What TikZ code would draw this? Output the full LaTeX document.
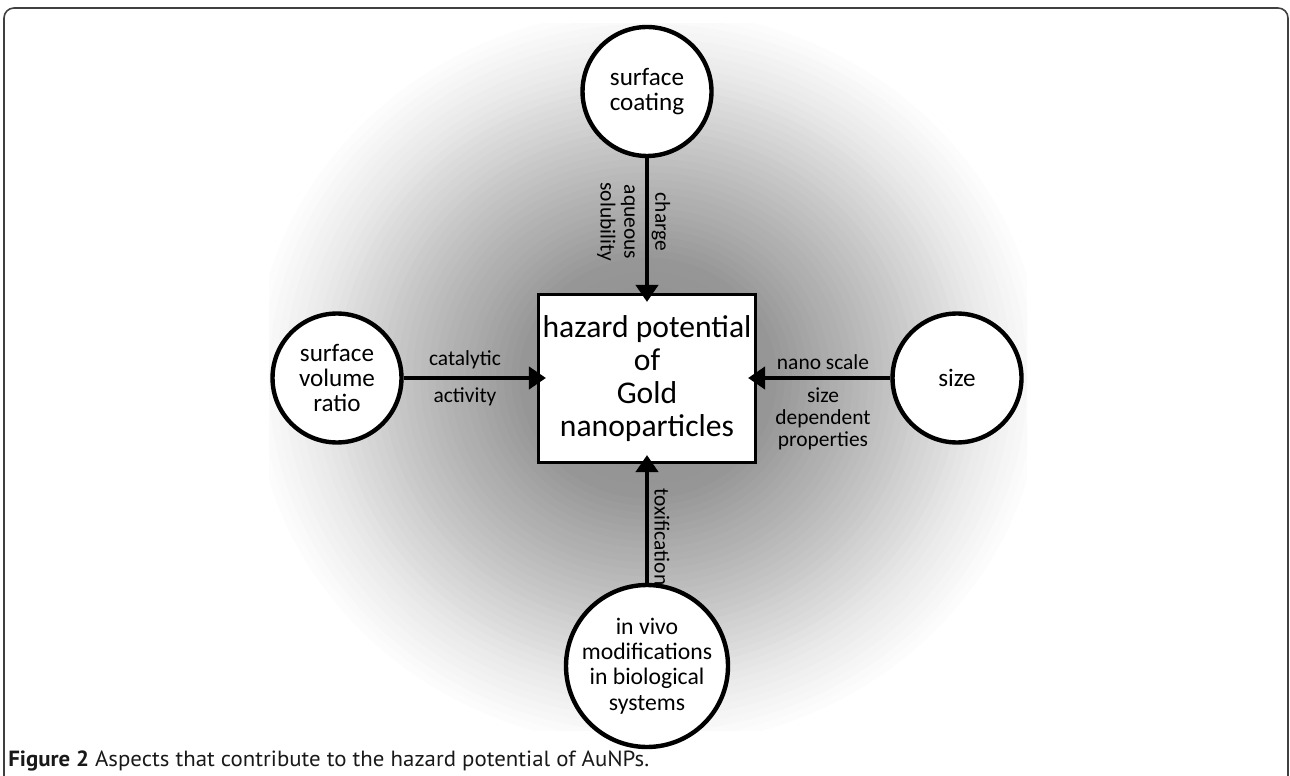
\documentclass[tikz,border=0pt]{standalone}
\usepackage{fontspec}
\setmainfont{Carlito}
\newfontfamily\capfont{PT Sans}
\usetikzlibrary{arrows.meta}
\tikzset{
  circ/.style={circle, draw, line width=2.5pt, fill=white, minimum size=2.58cm, inner sep=0pt, align=center, font=\fontsize{14.3}{14.2}\selectfont},
  hbox/.style={draw, line width=1.5pt, fill=white, minimum width=4.35cm, minimum height=3.37cm, inner sep=0pt, align=center, font=\fontsize{18}{18.8}\selectfont},
  conn/.style={line width=2.3pt, -{Triangle[length=0.34cm,width=0.44cm]}, shorten >=-0.18cm},
  lbl/.style={font=\fontsize{12.2}{12.5}\selectfont, align=center, inner sep=0pt},
  frame/.style={draw=black!75, line width=0.9pt}
}
\begin{document}
\begin{tikzpicture}[x=0.02cm, y=-0.02cm]
\useasboundingbox (0,0) rectangle (1290,776);
% outer frame (open at bottom)
\draw[frame] (4,776) -- (4,18) arc[start angle=180, end angle=90, radius=0.2cm] -- (1278,8) arc[start angle=90, end angle=0, radius=0.2cm] -- (1288,776);
% background glow: concentric ellipses, clipped to the image rectangle
\begin{scope}
\clip (269,24) rectangle (1027,730);
\foreach \t in {1.10,1.08,...,0.0} {
  \pgfmathsetmacro{\g}{\t>=1.06 ? 1 : (\t>=0.88 ? 0.91+0.09*(\t-0.88)/0.18 : (\t>=0.64 ? 0.76+0.15*(\t-0.64)/0.24 : (\t>=0.34 ? 0.59+0.17*(\t-0.34)/0.30 : 0.55+0.04*\t/0.34)))}
  \pgfmathsetmacro{\k}{100*(1-\g)}
  \pgfmathsetmacro{\ra}{max(379*\t,1)}
  \pgfmathsetmacro{\rb}{max(354*\t,1)}
  \fill[black!\k] (648,378) ellipse[x radius=\ra, y radius=\rb];
}
\end{scope}
% central box
\node[hbox] (hz) at (647,378.5) {hazard potential\\of\\Gold\\nanoparticles};
% circles
\node[circ] (sc) at (647,91.5) {surface\\coating};
\node[circ] (sv) at (337,378) {surface\\volume\\ratio};
\node[circ] (sz) at (957,378) {size};
\node[circ, font=\fontsize{13.5}{14.4}\selectfont] (iv) at (647,666) {in vivo\\modifications\\in biological\\systems};
% connectors
\draw[conn] (sc) -- (hz);
\draw[conn] (sv) -- (sv -| hz.west);
\draw[conn] (sz) -- (sz -| hz.east);
\draw[conn] (iv) -- (hz);
% connector labels
\node[lbl, rotate=-90] (lch) at (661,222) {charge};
\node[lbl, rotate=-90, font=\fontsize{12.2}{13.6}\selectfont] (laq) at (616,222) {aqueous\\solubility};
\node[lbl] (lca) at (465,360) {catalytic};
\node[lbl] (lac) at (465,397) {activity};
\node[lbl] (lns) at (823,362) {nano scale};
\node[lbl] (lsd) at (823,419) {size\\dependent\\properties};
\node[lbl, rotate=-90] (ltx) at (662,537) {toxification};
% caption
\node[anchor=base west, inner sep=0pt, text=black!90, font=\capfont\fontsize{12.5}{14}\selectfont] (cap) at (8,766) {\scalebox{1.04}[1]{\textbf{Figure 2} Aspects that contribute to the hazard potential of AuNPs.}};
\end{tikzpicture}
\end{document}
